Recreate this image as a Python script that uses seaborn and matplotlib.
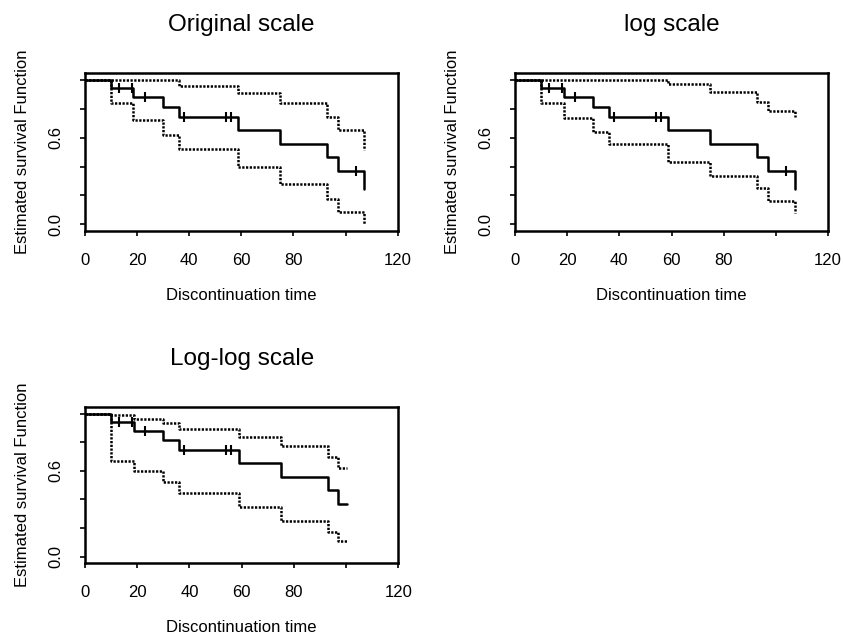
import numpy as np
import pandas as pd
import matplotlib
matplotlib.use("Agg")
import matplotlib.pyplot as plt
import seaborn as sns

sns.set_style("ticks", {'text.color': 'black', 'axes.labelcolor': 'black',
                        'xtick.color': 'black', 'ytick.color': 'black',
                        'axes.edgecolor': 'black'})
plt.rcParams['font.family'] = ['Liberation Sans', 'DejaVu Sans']

# step times and KM estimate
event_times = [0, 10, 18.6, 29.8, 36.1, 58.8, 74.9, 92.9, 96.9, 107.2]
km_surv = [1.0, 0.942, 0.880, 0.813, 0.744, 0.653, 0.556, 0.464, 0.369, 0.245]
censor_times = [13, 18, 23, 38, 54, 56, 104]

# confidence limits, plain and log
plain_upper = [1.0, 1.0, 1.0, 1.0, 0.961, 0.912, 0.838, 0.746, 0.653, 0.515]
plain_lower = [1.0, 0.838, 0.723, 0.621, 0.524, 0.395, 0.277, 0.173, 0.083, 0.0]
log_upper = [1.0, 1.0, 1.0, 1.0, 1.0, 0.970, 0.915, 0.850, 0.787, 0.746]
log_lower = [1.0, 0.843, 0.734, 0.642, 0.554, 0.434, 0.335, 0.249, 0.164, 0.076]

# log-log panel stops at ~100
loglog_times = [0, 10, 18.6, 29.8, 36.1, 58.8, 74.9, 92.9, 96.9, 100.2]
loglog_surv = [1.0, 0.942, 0.880, 0.813, 0.744, 0.654, 0.557, 0.467, 0.370, 0.370]
loglog_upper = [1.0, 0.993, 0.965, 0.931, 0.889, 0.838, 0.774, 0.695, 0.623, 0.623]
loglog_lower = [1.0, 0.670, 0.600, 0.520, 0.446, 0.346, 0.249, 0.173, 0.111, 0.111]
loglog_censor = [13, 18, 23, 38, 54, 56]

x_ticks = [0, 20, 40, 60, 80, 100, 120]
x_ticklabels = ['0', '20', '40', '60', '80', '', '120']
y_ticks = [0.0, 0.2, 0.4, 0.6, 0.8, 1.0]
y_ticklabels = ['0.0', '', '', '0.6', '', '']

W, H = 843, 640
fig = plt.figure(figsize=(W / 100, H / 100), dpi=100)


def px_rect(left, top, right, bottom):
    return [left / W, 1 - bottom / H, (right - left) / W, (bottom - top) / H]


def km_panel(rect, title, times, surv, upper, lower, cens):
    ax = fig.add_axes(rect)
    dotted = (0, (0.9, 0.6))
    sns.lineplot(x=times, y=upper, drawstyle='steps-post', estimator=None, sort=False,
                 color='black', lw=1.8, linestyle=dotted, ax=ax)
    sns.lineplot(x=times, y=lower, drawstyle='steps-post', estimator=None, sort=False,
                 color='black', lw=1.8, linestyle=dotted, ax=ax)
    sns.lineplot(x=times, y=surv, drawstyle='steps-post', estimator=None, sort=False,
                 color='black', lw=1.8, ax=ax)
    # censoring marks sit on the step curve
    idx = np.searchsorted(times, cens, side='right') - 1
    cens_y = np.asarray(surv)[idx]
    sns.scatterplot(x=cens, y=cens_y, marker='|', s=45, color='black', linewidth=1.5, ax=ax)

    ax.set_xlim(0, 120)
    ax.set_ylim(-0.046, 1.048)
    ax.set_xticks(x_ticks)
    ax.set_xticklabels(x_ticklabels)
    ax.set_yticks(y_ticks)
    ax.set_yticklabels(y_ticklabels, rotation=90, va='center')
    ax.tick_params(direction='out', length=3.5, width=1.2, colors='black', labelsize=12, pad=12)
    for sp in ax.spines.values():
        sp.set_visible(True)
        sp.set_color('black')
        sp.set_linewidth(1.8)
    ax.set_title(title, fontsize=17.5, pad=30, color='black')
    ax.set_xlabel('Discontinuation time', fontsize=12, va='center')
    ax.set_ylabel('Estimated survival Function', fontsize=12, va='center')
    bw = rect[2] * W
    bh = rect[3] * H
    ax.xaxis.set_label_coords(0.5, -64.5 / bh)
    ax.yaxis.set_label_coords(-62.5 / bw, 0.5)
    return ax


km_panel(px_rect(85, 73, 397.7, 231), 'Original scale',
         event_times, km_surv, plain_upper, plain_lower, censor_times)
km_panel(px_rect(515, 73, 828, 231), 'log scale',
         event_times, km_surv, log_upper, log_lower, censor_times)
km_panel(px_rect(85, 406.7, 398.3, 563.3), 'Log-log scale',
         loglog_times, loglog_surv, loglog_upper, loglog_lower, loglog_censor)

fig.savefig('out.png', dpi=100)
